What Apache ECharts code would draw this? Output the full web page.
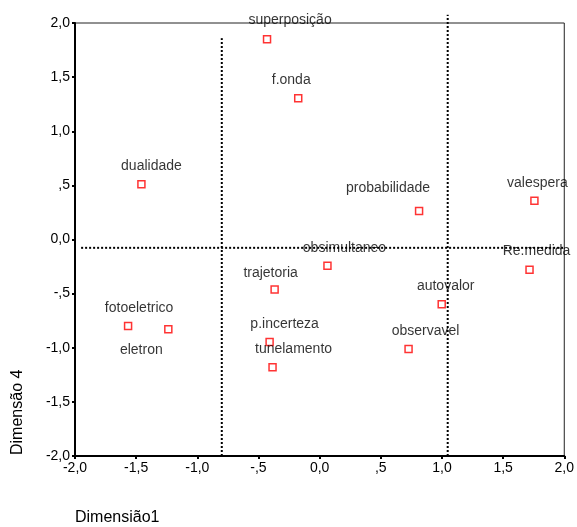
<!DOCTYPE html>
<html>
<head>
<meta charset="utf-8">
<script src="https://cdn.jsdelivr.net/npm/echarts@6/dist/echarts.min.js"></script>
<style>
html,body{margin:0;padding:0;background:#fff;}
#chart{width:577px;height:527px;}
</style>
</head>
<body>
<div id="chart"></div>
<script>
// ---- data ----
const pointNames = ['superposição','f.onda','dualidade','probabilidade','valespera','obsimultaneo','Re.medida','autovalor','observavel','trajetoria','fotoeletrico','eletron','p.incerteza','tunelamento'];
const dim1 = [-0.43,-0.175,-1.457,0.813,1.756,0.064,1.716,0.998,0.727,-0.368,-1.566,-1.237,-0.409,-0.385];
const dim4 = [1.85,1.305,0.51,0.263,0.358,-0.243,-0.28,-0.598,-1.011,-0.462,-0.798,-0.829,-0.946,-1.18];

const tickValues = [-2,-1.5,-1,-0.5,0,0.5,1,1.5,2];
const tickLabels = ['-2,0','-1,5','-1,0','-,5','0,0',',5','1,0','1,5','2,0'];

// dotted reference lines: [x, y] end points
const refLineA_x = [-0.80,-0.80];
const refLineA_y = [-2.0,1.86];
const refLineB_x = [1.047,1.047];
const refLineB_y = [-2.0,2.076];
const refLineC_x = [-1.95,2.0];
const refLineC_y = [-0.077,-0.077];

const xTitle = 'Dimensião1';
const yTitle = 'Dimensão 4';

// ---- styling (label offsets in pixels) ----
const labelOffsets = {
  'superposição':[23,-19],'f.onda':[-7,-18],'dualidade':[10,-18],'probabilidade':[-31,-23],
  'valespera':[3,-18],'obsimultaneo':[17,-18],'Re.medida':[7,-19],'autovalor':[4,-18],
  'observavel':[17,-18],'trajetoria':[-4,-16],'fotoeletrico':[11,-18],'eletron':[-27,21],
  'p.incerteza':[15,-18],'tunelamento':[21,-18]
};

const FONT = '"Liberation Sans", Arial, sans-serif';
function fmt(v){
  const i = tickValues.findIndex(t => Math.abs(t - v) < 1e-9);
  return i >= 0 ? tickLabels[i] : '';
}
function refLine(xs, ys){
  return {
    type:'line', clip:false, symbol:'none', silent:true, z:1,
    data: xs.map((x,i)=>[x, ys[i]]),
    lineStyle:{color:'#000', width:2, type:[2,2]}
  };
}

const chart = echarts.init(document.getElementById('chart'), null, {renderer:'canvas'});
chart.setOption({
  animation:false,
  backgroundColor:'#fff',
  textStyle:{fontFamily:FONT},
  grid:{left:75, right:11, top:23, bottom:71, show:true, borderColor:'#222', borderWidth:1, backgroundColor:'transparent'},
  xAxis:{
    type:'value', min:-2, max:2, interval:0.5,
    axisLine:{show:true, onZero:false, lineStyle:{color:'#000', width:2}},
    axisTick:{show:true, length:3, lineStyle:{color:'#000', width:2}},
    axisLabel:{formatter:fmt, fontSize:14, color:'#000', fontFamily:FONT, margin:5},
    splitLine:{show:false}
  },
  yAxis:{
    type:'value', min:-2, max:2, interval:0.5,
    axisLine:{show:true, onZero:false, lineStyle:{color:'#000', width:2}},
    axisTick:{show:true, length:3, lineStyle:{color:'#000', width:2}},
    axisLabel:{formatter:fmt, fontSize:14, color:'#000', fontFamily:FONT, margin:5},
    splitLine:{show:false}
  },
  graphic:[
    {type:'text', x:75, y:518, style:{text:xTitle, fontSize:16, fontFamily:FONT, fill:'#000', textAlign:'left', textVerticalAlign:'middle'}},
    {type:'text', x:18, y:455, rotation:Math.PI/2, style:{text:yTitle, fontSize:16, fontFamily:FONT, fill:'#000', textAlign:'left', textVerticalAlign:'middle'}}
  ],
  series:[
    refLine(refLineA_x, refLineA_y),
    refLine(refLineB_x, refLineB_y),
    refLine(refLineC_x, refLineC_y),
    {
      type:'scatter', z:3, symbol:'rect', symbolSize:7,
      itemStyle:{color:'#fff', borderColor:'#ff0000', borderWidth:1.5},
      data: pointNames.map((n,i)=>({
        name:n, value:[dim1[i], dim4[i]],
        label:{show:true, position:'inside', offset:labelOffsets[n], formatter:n,
               fontSize:14, color:'#000', fontFamily:FONT}
      }))
    }
  ]
});
</script>
</body>
</html>
